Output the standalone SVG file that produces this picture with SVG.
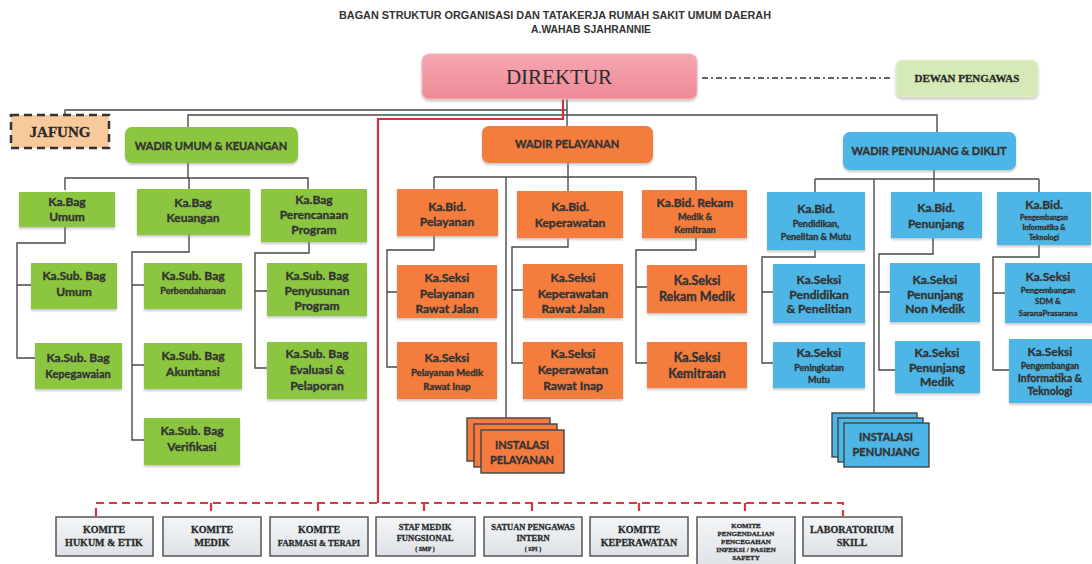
<svg xmlns="http://www.w3.org/2000/svg" width="1092" height="564" viewBox="0 0 1092 564">
<defs>
<filter id="sh" x="-10%" y="-10%" width="120%" height="130%"><feDropShadow dx="0" dy="2" stdDeviation="1.2" flood-color="#888" flood-opacity="0.45"/></filter>
<linearGradient id="gd" x1="0" y1="0" x2="0" y2="1"><stop offset="0" stop-color="#f6a7b1"/><stop offset="1" stop-color="#ee8996"/></linearGradient>
<linearGradient id="gk" x1="0" y1="0" x2="0" y2="1"><stop offset="0" stop-color="#f4f6f8"/><stop offset="1" stop-color="#dde2e7"/></linearGradient>
</defs>
<style>
.t{font-family:Lato,"Liberation Sans",sans-serif;font-weight:bold;fill:#333;stroke:#333;stroke-width:0.35;text-anchor:middle}
.s{font-family:"Liberation Serif",serif;font-weight:bold;fill:#2a2a2a;stroke:#2a2a2a;stroke-width:0.3;text-anchor:middle}
.g{fill:#8cc63f}
.o{fill:#f47b3e}
.b{fill:#4db6e6}
.k{fill:url(#gk);stroke:#555;stroke-width:1.5}
.c{fill:none;stroke:#4a4a4a;stroke-width:1.4}
.r{fill:none;stroke:#cf333d;stroke-width:2.2}
.rd{fill:none;stroke:#d9363e;stroke-width:2.2;stroke-dasharray:8 5}
.st{stroke:#444;stroke-width:1.4}
</style>
<rect width="1092" height="564" fill="#fff"/>
<g id="title">
<text x="555" y="19" font-family="Liberation Sans,sans-serif" font-weight="bold" font-size="10" fill="#333" text-anchor="middle" textLength="432" lengthAdjust="spacingAndGlyphs">BAGAN STRUKTUR ORGANISASI DAN TATAKERJA RUMAH SAKIT UMUM DAERAH</text>
<text x="591" y="33" font-family="Liberation Sans,sans-serif" font-weight="bold" font-size="10" fill="#333" text-anchor="middle" textLength="120" lengthAdjust="spacingAndGlyphs">A.WAHAB SJAHRANNIE</text>
</g>
<g id="connectors">
<path class="c" d="M567 99V126M567 110H65V115M188 127V115H937V132"/>
<path class="r" d="M563 99V119H378V503"/>
<path d="M702 78H890" stroke="#333" stroke-width="1.5" stroke-dasharray="6 3 2 3"/>
<path class="rd" d="M96 516V503H843V516M211 503V516M318 503V516M424 503V516M532 503V516M639 503V516M745 503V516"/>
<path class="c" d="M188 163V178M65 190V178H308V189M189 178V189"/>
<path class="c" d="M65 227V243H17V358H35M17 285H31"/>
<path class="c" d="M189 235V252H132V440H144M132 285H144M132 365H144"/>
<path class="c" d="M309 242V253H255V368H267M255 291H267"/>
<path class="c" d="M568 163V177M434 177H696M434 177V189M568 177V191M696 177V190M506 177V418"/>
<path class="c" d="M434 236V250H387V367H397M387 292H397"/>
<path class="c" d="M568 238V247H512V363H523M512 290H523"/>
<path class="c" d="M696 238V250H636V363H647M636 287H647"/>
<path class="c" d="M934 170V179M815 179H1039M815 179V192M934 179V192M1039 179V192M874 179V413"/>
<path class="c" d="M815 250V257H762V363H773M762 292H773"/>
<path class="c" d="M933 238V254H879V370H895M879 292H890"/>
<path class="c" d="M1039 245V257H993V370H1009M993 293H1005"/>
</g>
<g id="direktur"><rect x="422" y="54" width="275" height="45" rx="7" fill="url(#gd)" stroke="#f4b9c0" filter="url(#sh)"/><text x="559" y="84" font-family="Liberation Serif,serif" font-size="21" fill="#2a2a2a" text-anchor="middle">DIREKTUR</text></g>
<g id="dewan"><rect x="896" y="60" width="142" height="37" rx="6" fill="#d6eab8" stroke="#e3f0d0" filter="url(#sh)"/><text class="s" x="967" y="82" font-size="11">DEWAN PENGAWAS</text></g>
<g id="jafung"><rect x="11" y="115" width="98" height="33" fill="#f8c99b" stroke="#333" stroke-width="2.5" stroke-dasharray="8 5"/><text class="s" x="60" y="137" font-size="15">JAFUNG</text></g>
<g id="wadir-umum"><rect class="g" x="125" y="127" width="173" height="36" rx="7" filter="url(#sh)"/><text class="t" x="211" y="150" font-size="11">WADIR UMUM &amp; KEUANGAN</text></g>
<g id="wadir-pelayanan"><rect class="o" x="482" y="126" width="171" height="37" rx="7" filter="url(#sh)"/><text class="t" x="567" y="148" font-size="11">WADIR PELAYANAN</text></g>
<g id="wadir-penunjang"><rect class="b" x="843" y="132" width="173" height="38" rx="7" filter="url(#sh)"/><text class="t" x="929" y="155" font-size="11">WADIR PENUNJANG &amp; DIKLIT</text></g>

<g id="kabag-umum"><rect class="g" x="19" y="192" width="96" height="35" filter="url(#sh)"/><text class="t" x="67" y="206" font-size="12">Ka.Bag</text><text class="t" x="67" y="221" font-size="12">Umum</text></g>
<g id="kabag-keuangan"><rect class="g" x="137" y="189" width="113" height="46" filter="url(#sh)"/><text class="t" x="193" y="207" font-size="12">Ka.Bag</text><text class="t" x="193" y="222" font-size="12">Keuangan</text></g>
<g id="kabag-perencanaan"><rect class="g" x="261" y="189" width="106" height="53" filter="url(#sh)"/><text class="t" x="314" y="204" font-size="12">Ka.Bag</text><text class="t" x="314" y="219" font-size="12">Perencanaan</text><text class="t" x="314" y="234" font-size="12">Program</text></g>
<g id="kasub-umum"><rect class="g" x="31" y="263" width="86" height="46" filter="url(#sh)"/><text class="t" x="74" y="280" font-size="12">Ka.Sub. Bag</text><text class="t" x="74" y="296" font-size="12">Umum</text></g>
<g id="kasub-perbendaharaan"><rect class="g" x="144" y="263" width="98" height="46" filter="url(#sh)"/><text class="t" x="193" y="280" font-size="12">Ka.Sub. Bag</text><text class="t" x="193" y="294" font-size="9">Perbendaharaan</text></g>
<g id="kasub-penyusunan"><rect class="g" x="267" y="263" width="100" height="53" filter="url(#sh)"/><text class="t" x="317" y="280" font-size="12">Ka.Sub. Bag</text><text class="t" x="317" y="295" font-size="12">Penyusunan</text><text class="t" x="317" y="310" font-size="12">Program</text></g>
<g id="kasub-kepegawaian"><rect class="g" x="35" y="343" width="87" height="46" filter="url(#sh)"/><text class="t" x="78" y="362" font-size="12">Ka.Sub. Bag</text><text class="t" x="78" y="378" font-size="11">Kepegawaian</text></g>
<g id="kasub-akuntansi"><rect class="g" x="144" y="343" width="98" height="46" filter="url(#sh)"/><text class="t" x="193" y="360" font-size="12">Ka.Sub. Bag</text><text class="t" x="193" y="376" font-size="12">Akuntansi</text></g>
<g id="kasub-evaluasi"><rect class="g" x="267" y="342" width="100" height="57" filter="url(#sh)"/><text class="t" x="317" y="358" font-size="12">Ka.Sub. Bag</text><text class="t" x="317" y="374" font-size="12">Evaluasi &amp;</text><text class="t" x="317" y="390" font-size="12">Pelaporan</text></g>
<g id="kasub-verifikasi"><rect class="g" x="144" y="418" width="96" height="47" filter="url(#sh)"/><text class="t" x="192" y="435" font-size="12">Ka.Sub. Bag</text><text class="t" x="192" y="451" font-size="12">Verifikasi</text></g>

<g id="kabid-pelayanan"><rect class="o" x="397" y="189" width="101" height="47" filter="url(#sh)"/><text class="t" x="447" y="211" font-size="12">Ka.Bid.</text><text class="t" x="447" y="226" font-size="12">Pelayanan</text></g>
<g id="kabid-keperawatan"><rect class="o" x="517" y="191" width="106" height="47" filter="url(#sh)"/><text class="t" x="570" y="211" font-size="12">Ka.Bid.</text><text class="t" x="570" y="227" font-size="12">Keperawatan</text></g>
<g id="kabid-rekam"><rect class="o" x="642" y="190" width="105" height="48" filter="url(#sh)"/><text class="t" x="695" y="207" font-size="12">Ka.Bid. Rekam</text><text class="t" x="695" y="220" font-size="9">Medik &amp;</text><text class="t" x="695" y="233" font-size="9">Kemitraan</text></g>
<g id="kaseksi-pelayanan-rj"><rect class="o" x="397" y="265" width="100" height="53" filter="url(#sh)"/><text class="t" x="447" y="282" font-size="12">Ka.Seksi</text><text class="t" x="447" y="298" font-size="12">Pelayanan</text><text class="t" x="447" y="313" font-size="12">Rawat Jalan</text></g>
<g id="kaseksi-keperawatan-rj"><rect class="o" x="523" y="264" width="100" height="54" filter="url(#sh)"/><text class="t" x="573" y="282" font-size="12">Ka.Seksi</text><text class="t" x="573" y="298" font-size="12">Keperawatan</text><text class="t" x="573" y="313" font-size="12">Rawat Jalan</text></g>
<g id="kaseksi-rekam"><rect class="o" x="647" y="265" width="100" height="48" filter="url(#sh)"/><text class="t" x="697" y="285" font-size="12.5">Ka.Seksi</text><text class="t" x="697" y="301" font-size="12.5">Rekam Medik</text></g>
<g id="kaseksi-pelayanan-ri"><rect class="o" x="397" y="342" width="100" height="57" filter="url(#sh)"/><text class="t" x="447" y="362" font-size="12">Ka.Seksi</text><text class="t" x="447" y="376" font-size="9.5">Pelayanan Medik</text><text class="t" x="447" y="390" font-size="9.5">Rawat Inap</text></g>
<g id="kaseksi-keperawatan-ri"><rect class="o" x="523" y="342" width="100" height="57" filter="url(#sh)"/><text class="t" x="573" y="358" font-size="12">Ka.Seksi</text><text class="t" x="573" y="374" font-size="12">Keperawatan</text><text class="t" x="573" y="390" font-size="12">Rawat Inap</text></g>
<g id="kaseksi-kemitraan"><rect class="o" x="647" y="342" width="100" height="46" filter="url(#sh)"/><text class="t" x="697" y="362" font-size="12.5">Ka.Seksi</text><text class="t" x="697" y="378" font-size="12.5">Kemitraan</text></g>
<g id="instalasi-pelayanan"><rect class="o st" x="467" y="418" width="83" height="43"/><rect class="o st" x="474" y="424" width="83" height="43"/><rect class="o st" x="481" y="430" width="83" height="43"/><text class="t" x="522" y="449" font-size="11">INSTALASI</text><text class="t" x="522" y="464" font-size="11">PELAYANAN</text></g>

<g id="kabid-pendidikan"><rect class="b" x="767" y="192" width="98" height="58" filter="url(#sh)"/><text class="t" x="816" y="213" font-size="12">Ka.Bid.</text><text class="t" x="816" y="227" font-size="9">Pendidikan,</text><text class="t" x="816" y="240" font-size="9">Penelitan &amp; Mutu</text></g>
<g id="kabid-penunjang"><rect class="b" x="891" y="192" width="91" height="46" filter="url(#sh)"/><text class="t" x="936" y="212" font-size="12">Ka.Bid.</text><text class="t" x="936" y="228" font-size="12">Penunjang</text></g>
<g id="kabid-pengembangan"><rect class="b" x="997" y="192" width="94" height="53" filter="url(#sh)"/><text class="t" x="1044" y="209" font-size="12">Ka.Bid.</text><text class="t" x="1044" y="220" font-size="7">Pengembangan</text><text class="t" x="1044" y="230" font-size="7">Informatika &amp;</text><text class="t" x="1044" y="240" font-size="7">Teknologi</text></g>
<g id="kaseksi-pendidikan"><rect class="b" x="773" y="264" width="92" height="59" filter="url(#sh)"/><text class="t" x="819" y="284" font-size="12">Ka.Seksi</text><text class="t" x="819" y="299" font-size="12">Pendidikan</text><text class="t" x="819" y="313" font-size="12">&amp; Penelitian</text></g>
<g id="kaseksi-nonmedik"><rect class="b" x="890" y="263" width="90" height="59" filter="url(#sh)"/><text class="t" x="935" y="284" font-size="12">Ka.Seksi</text><text class="t" x="935" y="299" font-size="12">Penunjang</text><text class="t" x="935" y="313" font-size="12">Non Medik</text></g>
<g id="kaseksi-sdm"><rect class="b" x="1005" y="263" width="87" height="60" filter="url(#sh)"/><text class="t" x="1048" y="281" font-size="12">Ka.Seksi</text><text class="t" x="1048" y="293" font-size="8">Pengembangan</text><text class="t" x="1048" y="304" font-size="8">SDM &amp;</text><text class="t" x="1048" y="316" font-size="8">SaranaPrasarana</text></g>
<g id="kaseksi-mutu"><rect class="b" x="773" y="342" width="92" height="46" filter="url(#sh)"/><text class="t" x="819" y="357" font-size="12">Ka.Seksi</text><text class="t" x="819" y="371" font-size="9">Peningkatan</text><text class="t" x="819" y="383" font-size="9">Mutu</text></g>
<g id="kaseksi-medik"><rect class="b" x="895" y="341" width="85" height="52" filter="url(#sh)"/><text class="t" x="937" y="357" font-size="12">Ka.Seksi</text><text class="t" x="937" y="372" font-size="12">Penunjang</text><text class="t" x="937" y="386" font-size="12">Medik</text></g>
<g id="kaseksi-informatika"><rect class="b" x="1009" y="339" width="83" height="64" filter="url(#sh)"/><text class="t" x="1050" y="356" font-size="12">Ka.Seksi</text><text class="t" x="1050" y="369" font-size="8.5">Pengembangan</text><text class="t" x="1050" y="382" font-size="10.5">Informatika &amp;</text><text class="t" x="1050" y="395" font-size="10.5">Teknologi</text></g>
<g id="instalasi-penunjang"><rect class="b st" x="832" y="413" width="85" height="44"/><rect class="b st" x="838" y="418" width="85" height="44"/><rect class="b st" x="844" y="423" width="85" height="44"/><text class="t" x="886" y="441" font-size="11">INSTALASI</text><text class="t" x="886" y="456" font-size="11">PENUNJANG</text></g>

<g id="komite-hukum"><rect class="k" x="56" y="517" width="97" height="39"/><text class="s" x="104" y="533" font-size="10">KOMITE</text><text class="s" x="104" y="546" font-size="10">HUKUM &amp; ETIK</text></g>
<g id="komite-medik"><rect class="k" x="163" y="517" width="98" height="39"/><text class="s" x="212" y="533" font-size="10">KOMITE</text><text class="s" x="212" y="546" font-size="10">MEDIK</text></g>
<g id="komite-farmasi"><rect class="k" x="270" y="517" width="98" height="39"/><text class="s" x="319" y="533" font-size="10">KOMITE</text><text class="s" x="319" y="546" font-size="8.5">FARMASI &amp; TERAPI</text></g>
<g id="smf"><rect class="k" x="376" y="517" width="99" height="39"/><text class="s" x="425" y="530" font-size="8.5">STAF MEDIK</text><text class="s" x="425" y="541" font-size="8.5">FUNGSIONAL</text><text class="s" x="425" y="551" font-size="6">( SMF )</text></g>
<g id="spi"><rect class="k" x="484" y="517" width="98" height="39"/><text class="s" x="533" y="530" font-size="8.5">SATUAN PENGAWAS</text><text class="s" x="533" y="541" font-size="8.5">INTERN</text><text class="s" x="533" y="551" font-size="6">( SPI )</text></g>
<g id="komite-keperawatan"><rect class="k" x="590" y="517" width="98" height="39"/><text class="s" x="639" y="533" font-size="10">KOMITE</text><text class="s" x="639" y="546" font-size="10">KEPERAWATAN</text></g>
<g id="komite-ppi"><rect class="k" x="697" y="517" width="98" height="52"/><text class="s" x="746" y="528" font-size="7">KOMITE</text><text class="s" x="746" y="536" font-size="7">PENGENDALIAN</text><text class="s" x="746" y="544" font-size="7">PENCEGAHAN</text><text class="s" x="746" y="552" font-size="7">INFEKSI / PASIEN</text><text class="s" x="746" y="560" font-size="7">SAFETY</text></g>
<g id="lab-skill"><rect class="k" x="803" y="517" width="99" height="39"/><text class="s" x="852" y="533" font-size="10">LABORATORIUM</text><text class="s" x="852" y="546" font-size="10">SKILL</text></g>
</svg>
